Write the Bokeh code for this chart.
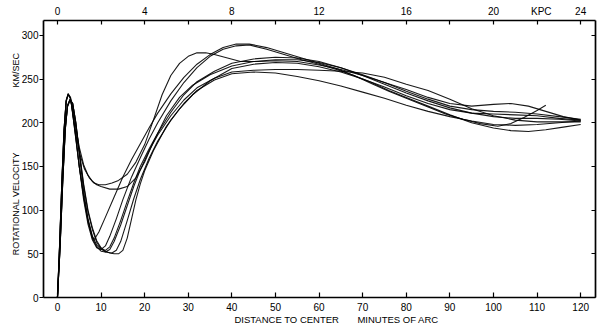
from bokeh.plotting import figure
from bokeh.models import LinearAxis, FixedTicker, Range1d
from bokeh.embed import file_html
from bokeh.resources import INLINE

# ---------------- data (arc minutes, km/sec) ----------------
x_c1 = [0, 0.5, 1.0, 1.5, 2.0, 2.45, 2.9, 3.3, 3.8, 4.4, 5.2, 6.2, 7.3, 8.4, 9.5, 11, 12.5, 14, 16, 18, 20, 22, 24, 26, 28, 30, 32, 34, 36, 39, 42, 46, 50, 55, 60, 65, 70, 75, 80, 85, 90, 95, 100, 104, 108, 112, 116, 120]
v_c1 = [0, 60, 130, 190, 225, 233, 229, 219, 201, 182, 163, 147, 137, 131, 129, 129, 131, 134, 141, 155, 175, 203, 232, 254, 268, 276, 280, 280, 278, 274, 270, 270, 271, 270, 266, 261, 254, 246, 238, 229, 222, 219, 221, 222, 219, 213, 207, 203]

x_c2 = [0, 0.6, 1.2, 1.8, 2.3, 2.9, 3.5, 4.2, 5.0, 6.0, 7.0, 8.0, 9.0, 10, 12, 14, 16, 18, 20, 22, 25, 28, 31, 35, 40, 45, 50, 55, 60, 65, 70, 75, 80, 85, 90, 95, 100, 105, 110, 115, 120]
v_c2 = [0, 60, 135, 195, 220, 227, 218, 195, 172, 152, 140, 133, 129, 127, 124, 124, 127, 137, 155, 178, 208, 229, 243, 255, 265, 270, 272, 272, 269, 263, 255, 246, 236, 227, 219, 215, 213, 212, 210, 207, 204]

x_c3 = [0, 0.6, 1.2, 1.8, 2.3, 2.9, 3.5, 4.2, 5.0, 6.0, 7.0, 8.0, 8.4, 9.5, 11, 13, 15, 17, 19, 21, 23, 26, 29, 32, 35, 38, 41, 44, 48, 52, 56, 60, 64, 68, 72, 76, 80, 85, 90, 95, 100, 104, 108, 112, 116, 120]
v_c3 = [0, 58, 132, 193, 219, 226, 222, 200, 165, 122, 90, 70, 66, 75, 92, 115, 138, 158, 176, 194, 211, 233, 252, 267, 278, 286, 290, 290, 286, 280, 274, 268, 262, 254, 246, 237, 229, 219, 209, 200, 194, 191, 190, 192, 195, 198]

x_c4 = [0, 0.5, 1.0, 1.5, 2.0, 2.45, 3.0, 3.5, 4.2, 5.0, 6.0, 7.0, 8.0, 9.0, 10, 11, 12, 13.5, 15, 17, 19, 21, 23, 26, 29, 32, 35, 38, 41, 44, 48, 52, 56, 60, 64, 68, 72, 76, 80, 85, 89, 93, 97, 101, 104, 107, 110, 112]
v_c4 = [0, 62, 132, 192, 226, 232, 228, 212, 185, 150, 112, 84, 66, 57, 55, 59, 70, 90, 112, 138, 160, 181, 200, 225, 246, 263, 276, 284, 288, 289, 284, 278, 272, 267, 261, 254, 245, 236, 228, 218, 210, 204, 199, 196, 199, 206, 214, 220]

x_c5 = [0, 0.5, 1.0, 1.5, 2.0, 2.45, 3.0, 3.5, 4.2, 5.0, 6.0, 7.0, 8.0, 9.0, 10, 11, 12, 13, 14.5, 16, 17.5, 19, 21, 23, 26, 29, 32, 36, 40, 45, 50, 55, 60, 65, 70, 75, 80, 85, 90, 95, 100, 105, 110, 115, 120]
v_c5 = [0, 58, 128, 188, 224, 233, 229, 210, 182, 150, 115, 87, 68, 58, 53, 52, 55, 64, 83, 105, 127, 146, 168, 186, 208, 226, 240, 251, 258, 260, 261, 261, 260, 259, 257, 252, 244, 237, 227, 216, 208, 203, 201, 201, 201]

x_c6 = [0, 0.6, 1.2, 1.8, 2.3, 2.9, 3.5, 4.2, 5.0, 6.0, 7.0, 8.0, 9.0, 10, 11, 12.5, 13.5, 14.5, 16, 17.5, 19, 21, 23, 26, 29, 32, 36, 40, 45, 50, 55, 60, 65, 70, 75, 80, 85, 90, 95, 100, 105, 110, 115, 120]
v_c6 = [0, 56, 130, 192, 218, 226, 222, 200, 166, 128, 98, 78, 63, 56, 52, 51, 54, 64, 88, 113, 135, 159, 179, 203, 222, 237, 249, 256, 258, 257, 253, 248, 242, 235, 228, 220, 213, 207, 202, 198, 197, 198, 200, 202]

x_c7 = [0, 0.6, 1.2, 1.8, 2.3, 2.9, 3.5, 4.2, 5.0, 6.0, 7.0, 8.0, 9.0, 10, 11, 12, 13, 14, 15, 16, 17, 18, 19, 20, 22, 25, 28, 31, 35, 40, 45, 50, 55, 60, 65, 70, 75, 80, 85, 90, 95, 100, 105, 110, 115, 120]
v_c7 = [0, 57, 131, 193, 219, 227, 222, 201, 168, 130, 100, 80, 65, 57, 53, 51, 50, 50, 54, 68, 90, 112, 130, 145, 168, 196, 216, 232, 248, 262, 267, 269, 268, 264, 258, 250, 241, 231, 222, 215, 211, 210, 209, 208, 205, 203]

x_c8 = [0, 0.5, 1.0, 1.5, 2.0, 2.45, 3.0, 3.5, 4.2, 5.0, 6.0, 7.0, 8.0, 9.0, 10, 11, 12, 13, 14.5, 16, 17.5, 19, 21, 23, 26, 29, 32, 36, 40, 45, 50, 55, 60, 65, 70, 75, 80, 85, 90, 95, 100, 105, 110, 115, 120]
v_c8 = [0, 61, 131, 191, 225, 232, 228, 210, 183, 150, 117, 89, 70, 60, 55, 54, 58, 68, 88, 110, 131, 150, 170, 188, 212, 232, 247, 259, 268, 273, 275, 274, 270, 263, 254, 244, 234, 225, 217, 211, 207, 205, 205, 204, 202]

curves = [(x_c1, v_c1), (x_c2, v_c2), (x_c3, v_c3), (x_c4, v_c4),
          (x_c5, v_c5), (x_c6, v_c6), (x_c7, v_c7), (x_c8, v_c8)]

NB = "\u00a0"

arcmin_ticks = [0, 10, 20, 30, 40, 50, 60, 70, 80, 90, 100, 110, 120]
kpc_label_ticks = [0, 20, 40, 60, 80, 100, 110, 120]
kpc_unlabelled_ticks = [10, 30, 50, 70, 90]
kpc_labels = {0: "0", 20: "4", 40: "8", 60: "12", 80: "16", 100: "20",
              110: NB * 3 + "KPC", 120: "24"}
velocity_ticks = [0, 50, 100, 150, 200, 250, 300]

FONT = "Liberation Sans"

p = figure(width=600, height=331, output_backend="svg", toolbar_location=None,
           x_range=Range1d(-3.2, 123.4), y_range=Range1d(0, 317),
           x_axis_location=None, y_axis_location=None,
           min_border_left=43, min_border_right=5, min_border_top=20, min_border_bottom=34)
p.outline_line_color = None
p.grid.grid_line_color = None
p.background_fill_color = "white"
p.border_fill_color = "white"

for xs, vs in curves:
    p.line(xs, vs, line_color="black", line_width=1.1, line_join="round", line_alpha=0.9)


def style(ax):
    ax.axis_line_color = "black"
    ax.axis_line_width = 1.7
    ax.major_tick_line_color = "black"
    ax.major_tick_line_width = 1.2
    ax.minor_tick_line_color = "black"
    ax.minor_tick_line_width = 1.2
    ax.major_label_text_font = FONT
    ax.major_label_text_font_size = "10px"
    ax.major_label_text_color = "black"


bottom = LinearAxis(ticker=FixedTicker(ticks=arcmin_ticks, minor_ticks=[]))
style(bottom)
bottom.major_tick_in = 5
bottom.major_tick_out = 0
bottom.major_label_standoff = 5
bottom.axis_label = NB * 13 + "DISTANCE TO CENTER" + NB * 7 + "MINUTES OF ARC"
bottom.axis_label_text_font = FONT
bottom.axis_label_text_font_size = "9.5px"
bottom.axis_label_text_font_style = "normal"
bottom.axis_label_text_color = "black"
bottom.axis_label_standoff = 0
p.add_layout(bottom, "below")

top = LinearAxis(ticker=FixedTicker(ticks=kpc_label_ticks, minor_ticks=kpc_unlabelled_ticks),
                 major_label_overrides=kpc_labels)
style(top)
top.major_tick_in = 4
top.major_tick_out = 0
top.minor_tick_in = 4
top.minor_tick_out = 0
top.major_label_standoff = 4
p.add_layout(top, "above")

left = LinearAxis(ticker=FixedTicker(ticks=velocity_ticks, minor_ticks=[]))
style(left)
left.major_tick_in = 0
left.major_tick_out = 4
left.major_label_standoff = 1
left.axis_label = NB * 4 + "ROTATIONAL VELOCITY" + NB * 26 + "KM/SEC"
left.axis_label_text_font = FONT
left.axis_label_text_font_size = "9px"
left.axis_label_text_font_style = "normal"
left.axis_label_text_color = "black"
left.axis_label_standoff = -2
p.add_layout(left, "left")

right = LinearAxis(ticker=FixedTicker(ticks=[], minor_ticks=velocity_ticks))
style(right)
right.minor_tick_in = 4
right.minor_tick_out = 0
right.major_label_standoff = 0
p.add_layout(right, "right")

open("out.html", "w").write(file_html(p, INLINE))
